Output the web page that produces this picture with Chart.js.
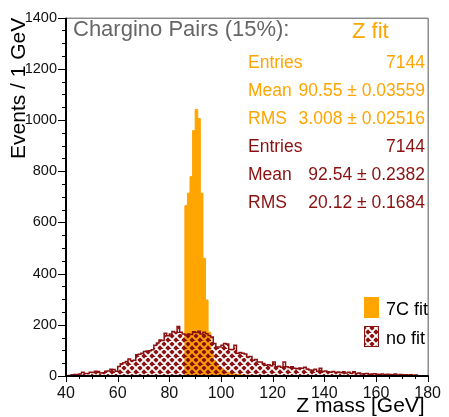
<!DOCTYPE html>
<html>
<head>
<meta charset="utf-8">
<script src="https://cdn.jsdelivr.net/npm/chart.js@4.4.1/dist/chart.umd.min.js"></script>
<style>
    html, body { margin: 0; padding: 0; background: #fff; }
</style>
</head>
<body>
<canvas id="zmass" width="449" height="417"></canvas>
<script>
// bins are 1 GeV wide, first bin starts at *Start
const noFitStart = 40;
const noFitCounts = [
    0, 2, 5, 6, 6, 8, 15, 10, 10, 15,
    14, 19, 18, 12, 13, 19, 20, 26, 25, 19,
    37, 48, 52, 57, 66, 60, 62, 83, 85, 89,
    96, 98, 99, 103, 120, 129, 141, 139, 167, 157,
    164, 174, 170, 193, 171, 164, 160, 164, 162, 173,
    170, 175, 164, 171, 165, 158, 152, 127, 113, 113,
    120, 127, 125, 104, 104, 120, 89, 92, 89, 86,
    74, 76, 62, 64, 55, 55, 49, 42, 44, 40,
    55, 36, 38, 34, 55, 36, 33, 36, 30, 28,
    31, 30, 34, 27, 23, 22, 26, 19, 30, 18,
    20, 17, 15, 18, 14, 16, 13, 17, 12, 15,
    11, 17, 10, 12, 8, 9, 10, 7, 8, 9,
    7, 6, 8, 5, 7, 6, 5, 8, 4, 6,
    5, 5, 4, 5, 3, 4, 0, 0, 0, 0
];
const fitStart = 86;
const fitCounts = [
    666, 714, 779, 959, 1041, 1006, 714, 460, 297, 171,
    95, 60, 45, 35, 28, 22, 15, 12, 10, 8,
    6, 5, 4, 3, 3, 2, 2
];
const xTicks = [40, 60, 80, 100, 120, 140, 160, 180];
const yTicks = [0, 200, 400, 600, 800, 1000, 1200, 1400];
const fitStats = [['Entries', '7144'], ['Mean', '90.55 \u00b1 0.03559'], ['RMS', '3.008 \u00b1 0.02516']];
const noFitStats = [['Entries', '7144'], ['Mean', '92.54 \u00b1 0.2382'], ['RMS', '20.12 \u00b1 0.1684']];

const ORANGE = '#ffa500';
const DARKRED = '#8b1111';
const FONT = '"Liberation Sans", Arial, sans-serif';

function hatch(color) {
    const s = 8;
    const c = document.createElement('canvas');
    c.width = s;
    c.height = s;
    const g = c.getContext('2d');
    g.fillStyle = color;
    g.fillRect(0, 0, s, s);
    g.globalCompositeOperation = 'destination-out';
    g.lineWidth = 1.9;
    g.beginPath();
    for (let k = -1; k <= 1; k++) {
        g.moveTo(0, k * s);
        g.lineTo(s, s + k * s);
    }
    for (let k = 0; k <= 2; k++) {
        g.moveTo(0, k * s);
        g.lineTo(s, k * s - s);
    }
    g.stroke();
    return g.createPattern(c, 'repeat');
}

function histPoints(start, counts) {
    let pts = [{x: start, y: 0}];
    counts.forEach((v, i) => pts.push({x: start + i, y: v}));
    pts.push({x: start + counts.length, y: 0});
    return pts;
}

const redHatch = hatch(DARKRED);

const decorations = {
    id: 'decorations',
    afterDraw(chart) {
        const {ctx, chartArea: a, scales: {x, y}} = chart;
        ctx.save();

        // ticks
        ctx.strokeStyle = '#000';
        ctx.lineWidth = 1;
        ctx.beginPath();
        for (let v = y.min; v <= y.max; v += 50) {
            const py = Math.round(y.getPixelForValue(v)) + 0.5;
            const len = v % 200 === 0 ? 8 : 4;
            ctx.moveTo(a.left - len, py);
            ctx.lineTo(a.left, py);
        }
        for (let v = x.min; v <= x.max; v += 5) {
            const px = Math.round(x.getPixelForValue(v)) + 0.5;
            const len = v % 20 === 0 ? 6 : 3;
            ctx.moveTo(px, a.bottom);
            ctx.lineTo(px, a.bottom + len);
        }
        ctx.stroke();

        // frame
        ctx.strokeStyle = '#555';
        ctx.lineWidth = 1;
        ctx.beginPath();
        ctx.moveTo(a.left, a.top + 0.5);
        ctx.lineTo(a.right + 0.5, a.top + 0.5);
        ctx.lineTo(a.right + 0.5, a.bottom);
        ctx.stroke();
        ctx.strokeStyle = '#000';
        ctx.lineWidth = 2;
        ctx.beginPath();
        ctx.moveTo(a.left, a.top);
        ctx.lineTo(a.left, a.bottom);
        ctx.lineTo(a.right + 1, a.bottom);
        ctx.stroke();

        // axis titles
        ctx.fillStyle = '#000';
        ctx.font = '21px ' + FONT;
        ctx.textAlign = 'right';
        ctx.textBaseline = 'alphabetic';
        ctx.fillText('Z mass [GeV]', a.right - 3, 412);
        ctx.save();
        ctx.translate(25, a.top);
        ctx.rotate(-Math.PI / 2);
        ctx.textAlign = 'right';
        ctx.fillText('Events / 1 GeV', 0, 0);
        ctx.restore();

        // title and stats
        ctx.textAlign = 'left';
        ctx.font = '22px ' + FONT;
        ctx.fillStyle = '#666';
        ctx.fillText('Chargino Pairs (15%):', 73, 36);
        ctx.fillStyle = ORANGE;
        ctx.fillText('Z fit', 352, 38);

        ctx.font = '17.5px ' + FONT;
        const rows = fitStats.map(r => [r, ORANGE]).concat(noFitStats.map(r => [r, DARKRED]));
        rows.forEach(([r, col], i) => {
            const by = 68 + i * 27.9;
            ctx.fillStyle = col;
            ctx.textAlign = 'left';
            ctx.fillText(r[0], 248, by);
            ctx.textAlign = 'right';
            ctx.fillText(r[1], 425, by);
        });

        // legend
        ctx.fillStyle = ORANGE;
        ctx.fillRect(364, 297, 15, 21);
        ctx.fillStyle = redHatch;
        ctx.fillRect(364, 326, 15, 21);
        ctx.strokeStyle = DARKRED;
        ctx.lineWidth = 1;
        ctx.strokeRect(364.5, 326.5, 14, 20);
        ctx.fillStyle = '#000';
        ctx.textAlign = 'left';
        ctx.font = '18px ' + FONT;
        ctx.fillText('7C fit', 386, 315);
        ctx.fillText('no fit', 386, 344);

        ctx.restore();
    }
};

const ctx = document.getElementById('zmass');

new Chart(ctx, {
    type: 'line',
    data: {
        datasets: [
            {
                label: 'no fit',
                data: histPoints(noFitStart, noFitCounts),
                stepped: 'before',
                fill: 'origin',
                backgroundColor: redHatch,
                borderColor: DARKRED,
                borderWidth: 1.5,
                pointRadius: 0,
            },
            {
                label: '7C fit',
                data: histPoints(fitStart, fitCounts),
                stepped: 'before',
                fill: 'origin',
                backgroundColor: ORANGE,
                borderColor: ORANGE,
                borderWidth: 1,
                pointRadius: 0,
            }
        ]
    },
    options: {
        responsive: false,
        animation: false,
        layout: {
            padding: {left: 0, right: 11, top: 13, bottom: 0}
        },
        plugins: {
            legend: {display: false},
            tooltip: {enabled: false}
        },
        scales: {
            x: {
                type: 'linear',
                min: 40,
                max: 180,
                afterBuildTicks: s => { s.ticks = xTicks.map(v => ({value: v})); },
                afterFit: s => { s.height = 41; },
                grid: {display: false, drawTicks: false},
                border: {display: false},
                ticks: {
                    padding: 8,
                    color: '#111',
                    maxRotation: 0,
                    callback: v => String(v),
                    font: {family: FONT, size: 16}
                }
            },
            y: {
                min: 0,
                max: 1400,
                afterBuildTicks: s => { s.ticks = yTicks.map(v => ({value: v})); },
                afterFit: s => { s.width = 66; },
                grid: {display: false, drawTicks: false},
                border: {display: false},
                ticks: {
                    padding: 9,
                    color: '#111',
                    callback: v => String(v),
                    font: {family: FONT, size: 14.5}
                }
            }
        }
    },
    plugins: [decorations]
});
</script>
</body>
</html>
